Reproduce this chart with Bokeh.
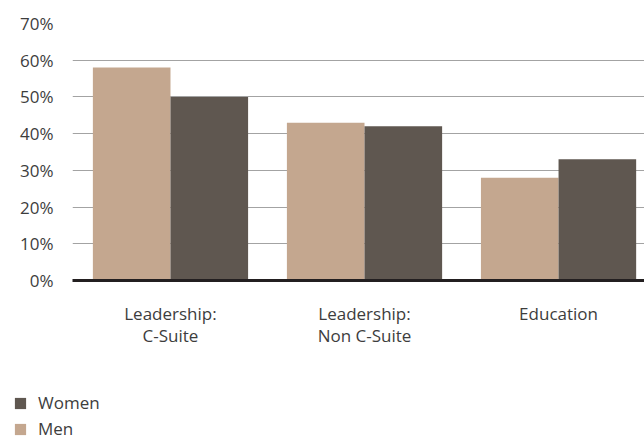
from bokeh.plotting import figure
from bokeh.layouts import column, row
from bokeh.models import (ColumnDataSource, Range1d, FixedTicker, PrintfTickFormatter,
                          Legend, LegendItem)
from bokeh.transform import dodge
from bokeh.embed import file_html
from bokeh.resources import INLINE

categories = ["Leadership:\nC-Suite", "Leadership:\nNon C-Suite", "Education"]
men = [58, 43, 28]
women = [50, 42, 33]
y_ticks = [0, 10, 20, 30, 40, 50, 60, 70]

MEN_COLOR = "#c4a78f"
WOMEN_COLOR = "#5f5750"
TEXT_COLOR = "#3d3d3d"
FONT = "Open Sans"

idx = list(range(len(categories)))
source = ColumnDataSource(dict(x=idx, men=men, women=women))

p = figure(width=644, height=360, output_backend="svg", toolbar_location=None,
           x_range=Range1d(-0.505, 2.443), y_range=Range1d(0, 70),
           min_border_left=72, min_border_right=0, min_border_top=23,
           min_border_bottom=80)
p.outline_line_color = None
p.background_fill_color = "white"
p.border_fill_color = "white"

r_men = p.vbar(x=dodge("x", -0.2, range=p.x_range), top="men", width=0.4,
               source=source, fill_color=MEN_COLOR, line_color=None)
r_women = p.vbar(x=dodge("x", 0.2, range=p.x_range), top="women", width=0.4,
                 source=source, fill_color=WOMEN_COLOR, line_color=None)

# axes
p.xaxis.ticker = FixedTicker(ticks=idx)
p.xaxis.major_label_overrides = {i: c for i, c in zip(idx, categories)}
p.xaxis.major_tick_out = 0
p.xaxis.major_tick_in = 0
p.xaxis.minor_tick_out = 0
p.xaxis.minor_tick_in = 0
p.xaxis.axis_line_color = "#231f20"
p.xaxis.axis_line_width = 3
p.xaxis.major_label_standoff = 21
p.xaxis.major_label_text_font = FONT
p.xaxis.major_label_text_font_size = "17px"
p.xaxis.major_label_text_line_height = 0.97
p.xaxis.major_label_text_color = TEXT_COLOR

p.yaxis.ticker = FixedTicker(ticks=y_ticks)
p.yaxis.formatter = PrintfTickFormatter(format="%d%%")
p.yaxis.axis_line_color = None
p.yaxis.major_tick_out = 0
p.yaxis.major_tick_in = 0
p.yaxis.minor_tick_out = 0
p.yaxis.minor_tick_in = 0
p.yaxis.major_label_standoff = 19
p.yaxis.major_label_text_font = FONT
p.yaxis.major_label_text_font_size = "17px"
p.yaxis.major_label_text_color = TEXT_COLOR

p.xgrid.grid_line_color = None
p.ygrid.ticker = FixedTicker(ticks=y_ticks)
p.ygrid.grid_line_color = "#a3a3a3"
p.ygrid.grid_line_width = 1

# legend strip below the chart
lg = figure(width=644, height=80, output_backend="svg", toolbar_location=None,
            x_range=Range1d(0, 644), y_range=Range1d(0, 80),
            x_axis_type=None, y_axis_type=None,
            min_border_left=0, min_border_right=0, min_border_top=0,
            min_border_bottom=0)
lg.outline_line_color = None
lg.grid.visible = False
lg_women = lg.vbar(x="x", top="women", width=0.4, source=source,
                   fill_color=WOMEN_COLOR, line_color=None, visible=False)
lg_men = lg.vbar(x="x", top="men", width=0.4, source=source,
                 fill_color=MEN_COLOR, line_color=None, visible=False)

legend = Legend(items=[LegendItem(label="Women", renderers=[lg_women]),
                       LegendItem(label="Men", renderers=[lg_men])],
                location=(13, 0), orientation="vertical",
                padding=0, margin=0, spacing=3,
                glyph_width=14, glyph_height=14, label_standoff=11,
                label_height=20,
                label_text_font=FONT, label_text_font_size="17px",
                label_text_color=TEXT_COLOR,
                border_line_color=None, background_fill_alpha=0)
lg.add_layout(legend, "center")

layout = column(p, row(lg, spacing=0), spacing=0)
open("out.html", "w").write(file_html(layout, INLINE))
